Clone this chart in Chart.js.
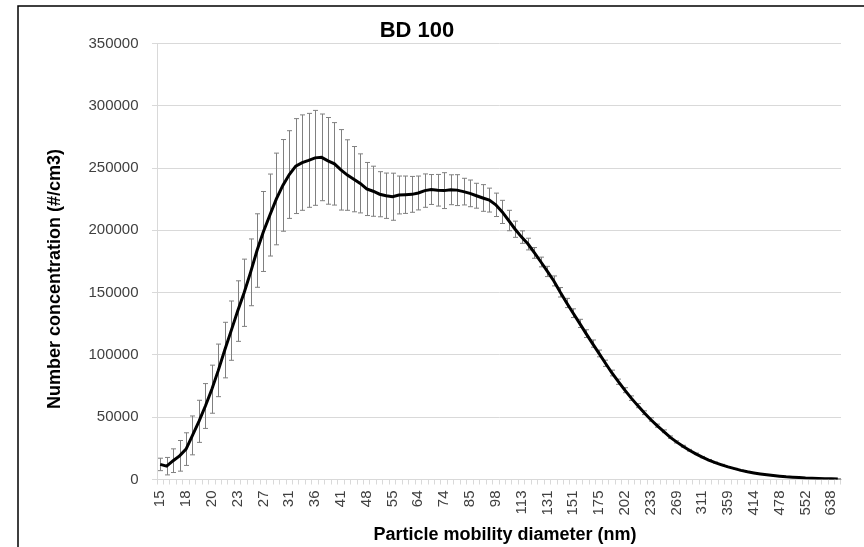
<!DOCTYPE html>
<html>
<head>
<meta charset="utf-8">
<script src="https://cdn.jsdelivr.net/npm/chart.js@4.4.1/dist/chart.umd.min.js"></script>
<style>
  html, body { margin: 0; padding: 0; background: #ffffff; }
  #wrap { width: 864px; height: 547px; position: relative; }
</style>
</head>
<body>
<div id="wrap"><canvas id="c" width="864" height="547"></canvas></div>
<script>
// SMPS channel midpoints (nm), 64 channels per decade
const diameters = [
  15.1, 15.7, 16.3, 16.8, 17.5, 18.1, 18.8, 19.5, 20.2, 20.9,
  21.7, 22.5, 23.3, 24.1, 25.0, 25.9, 26.9, 27.9, 28.9, 30.0,
  31.1, 32.2, 33.4, 34.6, 35.9, 37.2, 38.5, 40.0, 41.4, 42.9,
  44.5, 46.1, 47.8, 49.6, 51.4, 53.3, 55.2, 57.3, 59.4, 61.5,
  63.8, 66.1, 68.5, 71.0, 73.7, 76.4, 79.1, 82.0, 85.1, 88.2,
  91.4, 94.7, 98.2, 101.8, 105.5, 109.4, 113.4, 117.6, 121.9, 126.3,
  131.0, 135.8, 140.7, 145.9, 151.2, 156.8, 162.5, 168.5, 174.7, 181.1,
  187.7, 194.6, 201.7, 209.1, 216.7, 224.7, 232.9, 241.4, 250.3, 259.5,
  269.0, 278.8, 289.0, 299.6, 310.6, 322.0, 333.8, 346.0, 358.7, 371.8,
  385.4, 399.5, 414.2, 429.4, 445.1, 461.4, 478.3, 495.8, 514.0, 532.8,
  552.3, 572.5, 593.5, 615.3, 637.8, 661.2
];

// Mean number concentration (#/cm3) per channel
const concentration = [
  12100, 10700, 15100, 19000, 24400, 35400, 46700, 59000, 72500, 87600,
  103900, 119500, 135200, 149900, 166300, 183800, 199100, 212300, 225200, 236100,
  244800, 251600, 254400, 256200, 258200, 258600, 255800, 253400, 248600, 244400,
  241100, 237700, 233200, 231400, 229000, 227800, 227000, 228400, 228600, 228900,
  230000, 231900, 232800, 232200, 231900, 232600, 232300, 231100, 229700, 227800,
  226000, 224300, 220500, 214800, 207900, 200900, 194600, 189000, 181900, 174600,
  167000, 159400, 150300, 141700, 133500, 125300, 117100, 109100, 101200, 93300,
  85500, 78500, 71700, 65300, 59300, 53600, 48200, 43200, 38700, 34000,
  30200, 26700, 23500, 20600, 18000, 15600, 13600, 11800, 10100, 8700,
  7300, 6200, 5300, 4500, 3800, 3200, 2700, 2200, 1850, 1550,
  1200, 1000, 800, 660, 530, 430
];

// Standard deviation (#/cm3) per channel, drawn as error bars
const stdDev = [
  5000, 7000, 9500, 12300, 13100, 15600, 16900, 18000, 19300, 21100,
  22300, 23800, 24300, 27000, 26800, 29500, 32100, 32900, 36800, 36800,
  35200, 38100, 38300, 37700, 38100, 34800, 34800, 33100, 32300, 28300,
  26200, 23700, 21300, 20100, 18100, 18200, 18900, 15200, 15000, 14400,
  13600, 13400, 12000, 12700, 14400, 12000, 12400, 10700, 10700, 10000,
  10700, 9600, 9400, 9300, 8200, 6500, 5000, 4700, 4300, 3900,
  4100, 4000, 3800, 3700, 3500, 3300, 3100, 2900, 2700, 2500,
  2300, 2100, 2000, 1800, 1650, 1500, 1350, 1250, 1100, 950,
  850, 750, 680, 620, 550, 480, 420, 370, 320, 280,
  240, 200, 175, 150, 130, 110, 95, 85, 75, 65,
  55, 45, 38, 32, 28, 25
];

const yTicks = [0, 50000, 100000, 150000, 200000, 250000, 300000, 350000];
const labelEvery = 4;   // a diameter label on every 4th channel

const chartTitle = 'BD 100';
const xTitle = 'Particle mobility diameter (nm)';
const yTitle = 'Number concentration (#/cm3)';

const FONT = "'Liberation Sans', Arial, sans-serif";

// Grey error bars with short caps, drawn underneath the mean line
const errorBars = {
  id: 'errorBars',
  beforeDatasetsDraw(chart) {
    const { ctx, scales: { x, y } } = chart;
    ctx.save();
    ctx.strokeStyle = '#808080';
    ctx.lineWidth = 1;
    concentration.forEach((v, i) => {
      const px = Math.round(x.getPixelForValue(i)) + 0.5;
      const top = y.getPixelForValue(v + stdDev[i]);
      const bot = y.getPixelForValue(Math.max(0, v - stdDev[i]));
      ctx.beginPath();
      ctx.moveTo(px, top); ctx.lineTo(px, bot);
      ctx.moveTo(px - 2.5, top); ctx.lineTo(px + 2.5, top);
      ctx.moveTo(px - 2.5, bot); ctx.lineTo(px + 2.5, bot);
      ctx.stroke();
    });
    ctx.restore();
  }
};

// White background, outer frame and the three titles
const frameAndTitles = {
  id: 'frameAndTitles',
  beforeDraw(chart) {
    const { ctx, width, height } = chart;
    ctx.save();
    ctx.fillStyle = '#ffffff';
    ctx.fillRect(0, 0, width, height);
    ctx.strokeStyle = '#000000';
    ctx.lineWidth = 1.5;
    ctx.beginPath();
    ctx.moveTo(18, height);
    ctx.lineTo(18, 6);
    ctx.lineTo(width, 6);
    ctx.stroke();
    ctx.restore();
  },
  afterDraw(chart) {
    const { ctx } = chart;
    ctx.save();
    ctx.fillStyle = '#000000';
    ctx.textAlign = 'center';
    ctx.textBaseline = 'alphabetic';
    ctx.font = 'bold 22px ' + FONT;
    ctx.fillText(chartTitle, 417, 37);

    ctx.font = 'bold 18px ' + FONT;
    ctx.textBaseline = 'middle';
    ctx.fillText(xTitle, 505, 535);

    ctx.translate(55, 279);
    ctx.rotate(-Math.PI / 2);
    ctx.fillText(yTitle, 0, 0);
    ctx.restore();
  }
};

new Chart(document.getElementById('c'), {
  type: 'line',
  data: {
    labels: diameters,
    datasets: [{
      data: concentration,
      borderColor: '#000000',
      borderWidth: 3,
      pointRadius: 0,
      tension: 0,
      fill: false
    }]
  },
  options: {
    responsive: false,
    animation: false,
    events: [],
    layout: { padding: { left: 0, right: 23, top: 43.5, bottom: 0 } },
    plugins: { legend: { display: false }, tooltip: { enabled: false } },
    scales: {
      x: {
        type: 'category',
        offset: true,
        grid: {
          display: true,
          drawOnChartArea: false,
          drawTicks: true,
          tickLength: 5,
          offset: true,
          color: '#d9d9d9'
        },
        border: { display: true, color: '#d9d9d9', width: 1 },
        ticks: {
          autoSkip: false,
          minRotation: 90,
          maxRotation: 90,
          padding: 6,
          color: '#404040',
          font: { family: FONT, size: 15 },
          callback: (v, i) => (i % labelEvery === 0 ? String(Math.round(diameters[i])) : '')
        },
        afterFit: (s) => { s.height = 67.5; }
      },
      y: {
        min: 0,
        max: 350000,
        afterBuildTicks: (s) => { s.ticks = yTicks.map(v => ({ value: v })); },
        grid: {
          color: '#d9d9d9',
          lineWidth: 1,
          drawTicks: true,
          tickLength: 5
        },
        border: { display: true, color: '#d9d9d9', width: 1 },
        ticks: {
          padding: 13.5,
          color: '#404040',
          font: { family: FONT, size: 15 },
          callback: (v) => String(v)
        },
        afterFit: (s) => { s.width = 157; }
      }
    }
  },
  plugins: [errorBars, frameAndTitles]
});
</script>
</body>
</html>
